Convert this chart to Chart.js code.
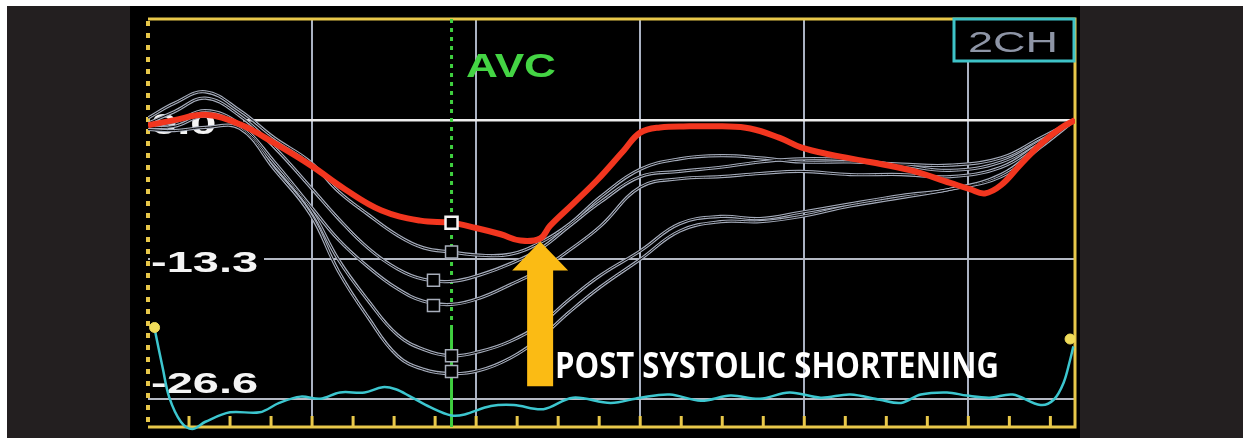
<!DOCTYPE html>
<html>
<head>
<meta charset="utf-8">
<script src="https://cdn.jsdelivr.net/npm/chart.js@4.4.1/dist/chart.umd.min.js"></script>
<style>
  html, body { margin: 0; padding: 0; background: #fff; }
  canvas { display: block; }
</style>
</head>
<body>
<canvas id="strainChart" width="1251" height="438"></canvas>
<script>
// Axis grid (time in grid units, strain in %)
const xGrid = [1, 2, 3, 4, 5];
const yGrid = [0, -13.3, -26.6];
const yLabels = ['0.0', '-13.3', '-26.6'];
const avcTime = 1.85;

// Global strain curve (red)
const redX = [0, 0.16, 0.35, 0.56, 0.77, 0.99, 1.2, 1.42, 1.66, 1.85, 2.0, 2.15, 2.27, 2.39, 2.45, 2.59, 2.74, 2.9, 3.0, 3.12, 3.3, 3.5, 3.67, 3.85, 3.98, 4.16, 4.4, 4.65, 4.89, 5.01, 5.1, 5.2, 5.32, 5.44, 5.56, 5.65];
const redY = [-0.5, 0, 0.5, -0.4, -2.2, -4.3, -6.6, -8.6, -9.6, -9.8, -10.3, -10.9, -11.5, -11.3, -10.1, -8.0, -5.7, -2.9, -1.2, -0.7, -0.6, -0.6, -0.8, -1.7, -2.6, -3.3, -4.0, -4.8, -6.0, -6.6, -7.0, -6.2, -4.2, -2.3, -0.8, 0];

// Segmental curves (grey)
const segX = [0, 0.16, 0.35, 0.56, 0.77, 0.99, 1.16, 1.34, 1.52, 1.68, 1.85, 2.02, 2.21, 2.39, 2.57, 2.76, 3.0, 3.24, 3.49, 3.73, 3.98, 4.28, 4.59, 4.89, 5.2, 5.44, 5.65];
const seg1 = [0.2, 1.6, 2.7, 0.9, -1.7, -4.0, -6.8, -9.0, -11.0, -12.2, -12.6, -12.9, -12.8, -11.7, -9.9, -7.3, -4.7, -3.7, -3.4, -3.6, -4.0, -4.0, -4.2, -4.3, -3.6, -1.7, 0];
const seg2 = [-0.3, 0.8, 2.1, 0.4, -2.6, -6.4, -9.4, -12.2, -14.2, -15.2, -15.4, -14.8, -13.7, -12.3, -10.1, -7.8, -5.4, -4.9, -4.5, -4.0, -3.7, -3.8, -4.3, -4.8, -4.0, -2.0, 0];
const seg3 = [-0.6, -0.2, 0.9, -0.4, -4.0, -8.2, -11.4, -14.0, -16.1, -17.3, -17.6, -17.0, -15.7, -14.3, -12.4, -10.1, -6.4, -5.6, -5.4, -5.1, -4.9, -5.2, -5.2, -5.4, -4.5, -2.2, 0];
const seg4 = [-0.7, -0.6, 0.4, -0.6, -4.3, -8.5, -13.3, -17.2, -20.5, -21.9, -22.5, -22.1, -21.1, -19.5, -17.1, -14.8, -12.5, -9.9, -9.2, -9.4, -8.8, -8.0, -7.2, -6.6, -5.2, -2.4, 0];
const seg5 = [-0.9, -1.0, -0.7, -0.8, -4.7, -9.0, -14.4, -18.8, -22.5, -23.8, -24.2, -23.9, -22.7, -20.8, -18.3, -15.9, -13.3, -10.6, -9.7, -9.7, -9.2, -8.2, -7.4, -6.6, -5.4, -2.6, 0];

// AVC markers on the segment curves
const markX = [1.85, 1.74, 1.74, 1.85, 1.85];
const markY = [-12.6, -15.3, -17.7, -22.5, -24.0];

// ECG trace (cyan)
const ecgX = [0.04, 0.09, 0.13, 0.2, 0.27, 0.35, 0.5, 0.68, 0.8, 0.93, 1.05, 1.17, 1.32, 1.43, 1.51, 1.6, 1.72, 1.85, 1.93, 2.09, 2.23, 2.41, 2.59, 2.82, 3.0, 3.18, 3.37, 3.55, 3.73, 3.91, 4.1, 4.28, 4.46, 4.59, 4.71, 4.87, 4.99, 5.13, 5.27, 5.44, 5.52, 5.58, 5.62, 5.64];
const ecgY = [-19.9, -23.7, -26.5, -28.8, -29.5, -28.8, -27.9, -27.9, -27.0, -26.4, -26.6, -26.0, -26.0, -25.5, -25.7, -26.4, -27.4, -28.2, -28.1, -27.3, -27.2, -27.6, -26.5, -27.0, -26.5, -26.2, -26.8, -26.3, -26.6, -26.0, -26.5, -26.2, -26.7, -27.0, -26.2, -26.0, -26.3, -26.5, -26.2, -27.2, -26.7, -25.1, -22.9, -21.6];

// ECG cursor markers
const cursorX = [0.04, 5.62];
const cursorY = [-19.8, -20.9];

// Arrow (post systolic shortening)
const arrowX = 2.39;
const arrowTop = -11.6;
const arrowBottom = -25.4;

const pts = (xs, ys) => xs.map((x, i) => ({ x: x, y: ys[i] }));

const segments = [seg1, seg2, seg3, seg4, seg5];
const datasets = [];

datasets.push({
  data: pts([avcTime], [-9.8]),
  showLine: false,
  pointStyle: 'rect',
  pointRadius: 8.5,
  borderColor: '#f4f4f4',
  backgroundColor: '#000',
  pointBorderWidth: 2.5,
  order: 0
});
datasets.push({
  data: pts(markX, markY),
  showLine: false,
  pointStyle: 'rect',
  pointRadius: 8.5,
  borderColor: '#a8aebb',
  backgroundColor: '#000',
  pointBorderWidth: 1.5,
  order: 1
});
datasets.push({
  data: pts(cursorX, cursorY),
  showLine: false,
  pointStyle: 'circle',
  pointRadius: 5,
  borderColor: '#f0dc5a',
  backgroundColor: '#f0dc5a',
  order: 2
});
datasets.push({
  data: pts(redX, redY),
  borderColor: '#f2361f',
  borderWidth: 6,
  pointRadius: 0,
  tension: 0.4,
  order: 3
});
segments.forEach((seg, i) => {
  datasets.push({
    data: pts(segX, seg),
    borderColor: '#000',
    borderWidth: 1,
    pointRadius: 0,
    tension: 0.4,
    order: 4 + i * 0.01
  });
  datasets.push({
    data: pts(segX, seg),
    borderColor: '#a4abba',
    borderWidth: 3.2,
    pointRadius: 0,
    tension: 0.4,
    order: 5 + i * 0.01
  });
});
datasets.push({
  data: pts(ecgX, ecgY),
  borderColor: '#3cc6cf',
  borderWidth: 2.5,
  pointRadius: 0,
  tension: 0.35,
  clip: false,
  order: 6
});

function stretchText(ctx, text, x, y, sx, font, color) {
  ctx.save();
  ctx.translate(x, y);
  ctx.scale(sx, 1);
  ctx.font = font;
  ctx.fillStyle = color;
  ctx.textAlign = 'left';
  ctx.textBaseline = 'alphabetic';
  ctx.fillText(text, 0, 0);
  ctx.restore();
}

const scene = {
  id: 'scene',
  beforeDraw(chart) {
    const ctx = chart.ctx;
    ctx.save();
    ctx.fillStyle = '#fff';
    ctx.fillRect(0, 0, chart.width, chart.height);
    ctx.fillStyle = '#231f20';
    ctx.fillRect(7, 6, 1236, chart.height - 6);
    ctx.fillStyle = '#000';
    ctx.fillRect(130, 6, 950, chart.height - 6);
    ctx.restore();
  },
  beforeDatasetsDraw(chart) {
    const ctx = chart.ctx;
    const a = chart.chartArea;
    const xs = chart.scales.x, ys = chart.scales.y;
    ctx.save();

    // strain labels
    const dy = [14, 13, -6];
    const bgEnd = [243, 264, 0];
    yGrid.forEach((v, i) => {
      const py = ys.getPixelForValue(v);
      if (bgEnd[i]) {
        ctx.fillStyle = '#000';
        ctx.fillRect(a.left + 2, py - 3, bgEnd[i] - a.left - 2, 6);
      }
      stretchText(ctx, yLabels[i], a.left + 3, py + dy[i], 1.62, 'bold 29px "Liberation Sans", Arial', '#f4f4f4');
    });

    // yellow frame
    ctx.strokeStyle = '#e8c84a';
    ctx.lineWidth = 3;
    ctx.beginPath();
    ctx.moveTo(a.left, a.top);
    ctx.lineTo(a.right, a.top);
    ctx.lineTo(a.right, a.bottom);
    ctx.lineTo(a.left, a.bottom);
    ctx.stroke();
    ctx.lineWidth = 4;
    ctx.setLineDash([5, 7]);
    ctx.beginPath();
    ctx.moveTo(a.left, a.top + 2);
    ctx.lineTo(a.left, a.bottom);
    ctx.stroke();
    ctx.setLineDash([]);
    ctx.lineWidth = 3;
    for (let t = 0.25; t < 5.6; t += 0.25) {
      const px = xs.getPixelForValue(t);
      ctx.beginPath();
      ctx.moveTo(px, a.bottom);
      ctx.lineTo(px, a.bottom - 11);
      ctx.stroke();
    }

    // AVC marker line
    const ax = xs.getPixelForValue(avcTime);
    ctx.strokeStyle = '#3fcf3f';
    ctx.lineWidth = 3;
    ctx.setLineDash([4, 5]);
    ctx.beginPath();
    ctx.moveTo(ax, a.top);
    ctx.lineTo(ax, 325);
    ctx.stroke();
    ctx.setLineDash([]);
    ctx.beginPath();
    ctx.moveTo(ax, 325);
    ctx.lineTo(ax, a.bottom);
    ctx.stroke();
    ctx.restore();
  },
  afterDatasetsDraw(chart) {
    const ctx = chart.ctx;
    const xs = chart.scales.x, ys = chart.scales.y;
    ctx.save();

    // arrow
    const cx = xs.getPixelForValue(arrowX);
    const top = ys.getPixelForValue(arrowTop);
    const bottom = ys.getPixelForValue(arrowBottom);
    ctx.fillStyle = '#fbbb14';
    ctx.beginPath();
    ctx.moveTo(cx, top);
    ctx.lineTo(cx + 28, top + 29);
    ctx.lineTo(cx + 13, top + 29);
    ctx.lineTo(cx + 13, bottom);
    ctx.lineTo(cx - 13, bottom);
    ctx.lineTo(cx - 13, top + 29);
    ctx.lineTo(cx - 28, top + 29);
    ctx.closePath();
    ctx.fill();

    ctx.font = 'bold 35px "Open Sans", sans-serif';
    ctx.fillStyle = '#fff';
    ctx.textBaseline = 'alphabetic';
    ctx.fillText('POST SYSTOLIC SHORTENING', 555, 378, 444);

    // AVC label
    stretchText(ctx, 'AVC', 466, 77, 1.3, 'bold 34px "Liberation Sans", Arial', '#44d444');

    // view box
    ctx.fillStyle = '#000';
    ctx.fillRect(953, 19, 121, 42);
    ctx.strokeStyle = '#3ec3c8';
    ctx.lineWidth = 3;
    ctx.strokeRect(954, 19, 120, 42);
    stretchText(ctx, '2CH', 968, 52, 1.5, '30px "Liberation Sans", Arial', '#8e95a6');
    ctx.restore();
  }
};

new Chart(document.getElementById('strainChart'), {
  type: 'line',
  data: { datasets: datasets },
  options: {
    responsive: false,
    animation: false,
    devicePixelRatio: 1,
    layout: { padding: { left: 148, right: 176, top: 19, bottom: 1 } },
    plugins: { legend: { display: false }, tooltip: { enabled: false } },
    scales: {
      x: {
        type: 'linear',
        min: 0,
        max: 5.65,
        afterBuildTicks: (scale) => { scale.ticks = xGrid.map(v => ({ value: v })); },
        ticks: { display: false },
        border: { display: false },
        grid: { color: '#aab2c2', lineWidth: 2, drawTicks: false }
      },
      y: {
        type: 'linear',
        min: -29.3,
        max: 9.65,
        afterBuildTicks: (scale) => { scale.ticks = yGrid.map(v => ({ value: v })); },
        ticks: { display: false },
        border: { display: false },
        grid: {
          color: (c) => c.tick && c.tick.value === 0 ? '#ececec' : '#b4b9c4',
          lineWidth: (c) => c.tick && c.tick.value === 0 ? 2.5 : 2,
          drawTicks: false
        }
      }
    }
  },
  plugins: [scene]
});
</script>
</body>
</html>
